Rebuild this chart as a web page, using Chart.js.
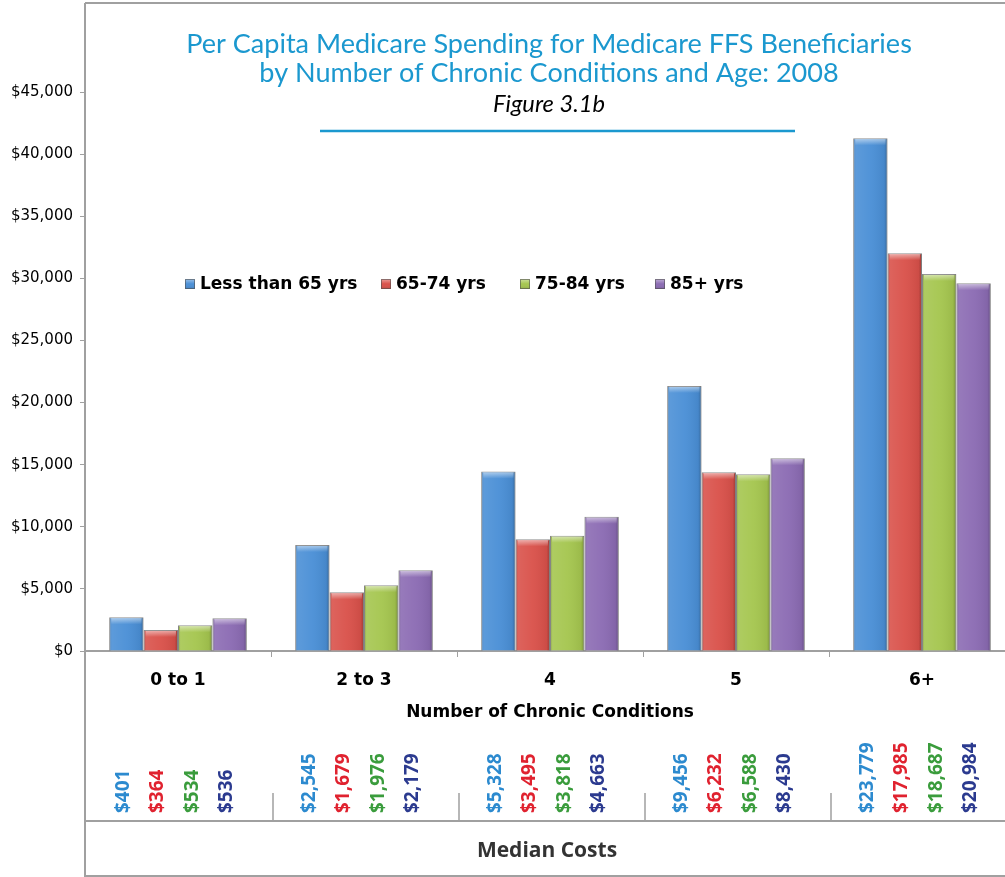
<!DOCTYPE html>
<html>
<head>
<meta charset="utf-8">
<script src="https://cdn.jsdelivr.net/npm/chart.js@4.4.0/dist/chart.umd.min.js"></script>
<style>
html,body{margin:0;padding:0;overflow:hidden;background:#fff;width:1005px;height:877px}
#wrap{position:relative;width:1015px;height:877px}
canvas{display:block}
</style>
</head>
<body>
<div id="wrap"><canvas id="c" width="1015" height="877"></canvas></div>
<script>
// ---- Data ----
const categories = ['0 to 1', '2 to 3', '4', '5', '6+'];
const seriesNames = ['Less than 65 yrs', '65-74 yrs', '75-84 yrs', '85+ yrs'];
const lessThan65 = [2710, 8530, 14440, 21340, 41270];
const age65to74 = [1690, 4720, 8990, 14390, 32020];
const age75to84 = [2070, 5290, 9280, 14220, 30350];
const age85plus = [2630, 6500, 10810, 15510, 29600];
const medianLessThan65 = [401, 2545, 5328, 9456, 23779];
const median65to74 = [364, 1679, 3495, 6232, 17985];
const median75to84 = [534, 1976, 3818, 6588, 18687];
const median85plus = [536, 2179, 4663, 8430, 20984];
const yTickValues = [0, 5000, 10000, 15000, 20000, 25000, 30000, 35000, 40000, 45000];
const titleLines = ['Per Capita Medicare Spending for Medicare FFS Beneficiaries', 'by Number of Chronic Conditions and Age: 2008'];
const subtitle = 'Figure 3.1b';
const xAxisTitle = 'Number of Chronic Conditions';
const tableTitle = 'Median Costs';

const barColors = ['#4A8FD6', '#D9514A', '#A5C64F', '#8B6BB3'];
const medianColors = ['#2C8ACF', '#E0222F', '#3A9C3C', '#2B3A8F'];
const legendX = [185, 381, 520, 655];
const medians = [medianLessThan65, median65to74, median75to84, median85plus];
const fmt = v => '$' + v.toLocaleString('en-US');

const extras = {
  id: 'extras',
  beforeDraw(chart) {
    const ctx = chart.ctx;
    ctx.save();
    ctx.fillStyle = '#fff';
    ctx.fillRect(0, 0, chart.width, chart.height);
    ctx.restore();
  },
  afterDatasetsDraw(chart) {
    const ctx = chart.ctx;
    ctx.save();
    chart.data.datasets.forEach((ds, i) => {
      const meta = chart.getDatasetMeta(i);
      meta.data.forEach(el => {
        const w = el.width, l = el.x - w / 2, top = el.y, h = el.base - el.y;
        const g = ctx.createLinearGradient(l, 0, l + w, 0);
        g.addColorStop(0, 'rgba(0,0,0,0.25)');
        g.addColorStop(0.08, 'rgba(255,255,255,0.10)');
        g.addColorStop(0.5, 'rgba(255,255,255,0.04)');
        g.addColorStop(0.9, 'rgba(0,0,0,0.06)');
        g.addColorStop(1, 'rgba(0,0,0,0.28)');
        ctx.fillStyle = g;
        ctx.fillRect(l + 0.5, top + 0.5, w - 1, h - 0.5);
        const hb = Math.min(7, h);
        const g2 = ctx.createLinearGradient(0, top, 0, top + hb);
        g2.addColorStop(0, 'rgba(255,255,255,0.55)');
        g2.addColorStop(1, 'rgba(255,255,255,0)');
        ctx.fillStyle = g2;
        ctx.fillRect(l + 2, top + 1, w - 4, hb);
      });
    });
    ctx.restore();
  },
  afterDraw(chart) {
    const ctx = chart.ctx;
    const xs = chart.scales.x;
    const area = chart.chartArea;
    const L = area.left, R = chart.width;
    ctx.save();
    // frame lines
    ctx.strokeStyle = '#A0A0A0';
    ctx.lineWidth = 2;
    ctx.beginPath();
    ctx.moveTo(L, 3); ctx.lineTo(R, 3);
    ctx.moveTo(L, 3); ctx.lineTo(L, 877);
    ctx.moveTo(L, 821); ctx.lineTo(R, 821);
    ctx.moveTo(L, 876); ctx.lineTo(R, 876);
    ctx.stroke();
    // table dividers at category boundaries
    ctx.lineWidth = 1.5;
    ctx.beginPath();
    for (let j = 1; j < categories.length; j++) {
      const bx = Math.round((xs.getPixelForTick(j - 1) + xs.getPixelForTick(j)) / 2) + 2;
      ctx.moveTo(bx, 793); ctx.lineTo(bx, 821);
    }
    ctx.stroke();

    // title
    ctx.fillStyle = '#1B98CF';
    ctx.textAlign = 'center';
    ctx.textBaseline = 'middle';
    ctx.font = '24px Lato';
    const w1 = ctx.measureText(titleLines[0]).width;
    const ts = 24 * 726 / w1;
    ctx.font = ts.toFixed(2) + 'px Lato';
    ctx.fillText(titleLines[0], 549, 44);
    ctx.fillText(titleLines[1], 549, 73);
    ctx.fillStyle = '#000';
    ctx.font = 'italic 18px Lato';
    const ws = ctx.measureText(subtitle).width;
    ctx.font = 'italic ' + (18 * 112 / ws).toFixed(2) + 'px Lato';
    ctx.fillText(subtitle, 549, 104);
    ctx.strokeStyle = '#1B98CF';
    ctx.lineWidth = 2.5;
    ctx.beginPath(); ctx.moveTo(320, 131); ctx.lineTo(795, 131); ctx.stroke();

    // legend
    ctx.font = 'bold 17px "DejaVu Sans"';
    ctx.textAlign = 'left';
    const ly = 284;
    chart.data.datasets.forEach((ds, i) => {
      const lx = legendX[i];
      ctx.fillStyle = ds.backgroundColor;
      ctx.fillRect(lx, ly - 5, 10, 10);
      const g = ctx.createLinearGradient(lx, ly - 5, lx, ly + 5);
      g.addColorStop(0, 'rgba(255,255,255,0.45)');
      g.addColorStop(0.5, 'rgba(255,255,255,0)');
      g.addColorStop(1, 'rgba(0,0,0,0.15)');
      ctx.fillStyle = g;
      ctx.fillRect(lx, ly - 5, 10, 10);
      ctx.strokeStyle = 'rgba(80,80,80,0.6)';
      ctx.lineWidth = 1;
      ctx.strokeRect(lx + 0.5, ly - 4.5, 9, 9);
      ctx.fillStyle = '#000';
      ctx.fillText(ds.label, lx + 15, ly + 1);
    });

    // x axis title
    ctx.textAlign = 'center';
    ctx.font = 'bold 17px "DejaVu Sans"';
    ctx.fillStyle = '#000';
    ctx.fillText(xAxisTitle, (area.left + area.right) / 2, 713);

    // median values (rotated)
    ctx.font = 'bold 19px "Open Sans"';
    medians.forEach((arr, i) => {
      const meta = chart.getDatasetMeta(i);
      ctx.fillStyle = medianColors[i];
      arr.forEach((v, j) => {
        const el = meta.data[j];
        ctx.save();
        ctx.translate(el.x - 3, 813);
        ctx.rotate(-Math.PI / 2);
        ctx.textAlign = 'left';
        ctx.textBaseline = 'middle';
        ctx.fillText(fmt(v), 0, 0);
        ctx.restore();
      });
    });

    // table title
    ctx.fillStyle = '#333';
    ctx.textAlign = 'center';
    ctx.textBaseline = 'middle';
    ctx.font = 'bold 21px "Open Sans"';
    ctx.fillText(tableTitle, 547, 851);
    ctx.restore();
  }
};

const seriesData = [lessThan65, age65to74, age75to84, age85plus];
new Chart(document.getElementById('c'), {
  type: 'bar',
  data: {
    labels: categories,
    datasets: seriesData.map((d, i) => ({
      label: seriesNames[i],
      data: d,
      backgroundColor: barColors[i],
      borderColor: 'rgba(70,70,70,0.6)',
      borderWidth: 1,
      categoryPercentage: 0.74,
      barPercentage: 1.0
    }))
  },
  options: {
    responsive: false,
    animation: false,
    devicePixelRatio: 1,
    layout: { padding: { top: 92, left: 0, right: 0, bottom: 0 } },
    plugins: { legend: { display: false }, tooltip: { enabled: false }, title: { display: false } },
    scales: {
      x: {
        afterFit(s) { s.height = 226; },
        grid: { display: true, drawOnChartArea: false, drawTicks: true, tickLength: 6, color: '#A0A0A0', offset: true },
        border: { display: true, color: '#A0A0A0', width: 2 },
        ticks: { color: '#000', padding: 13, font: { family: 'DejaVu Sans', size: 17, weight: 'bold' } }
      },
      y: {
        min: 0, max: 45000,
        afterFit(s) { s.width = 85; },
        afterBuildTicks(s) { s.ticks = yTickValues.map(v => ({ value: v })); },
        grid: { display: true, drawOnChartArea: false, drawTicks: true, tickLength: 5, color: '#A0A0A0' },
        border: { display: true, color: '#A0A0A0', width: 2 },
        ticks: { color: '#000', padding: 7, font: { family: 'DejaVu Sans', size: 15 }, callback: v => fmt(v) }
      }
    }
  },
  plugins: [extras]
});
</script>
</body>
</html>
